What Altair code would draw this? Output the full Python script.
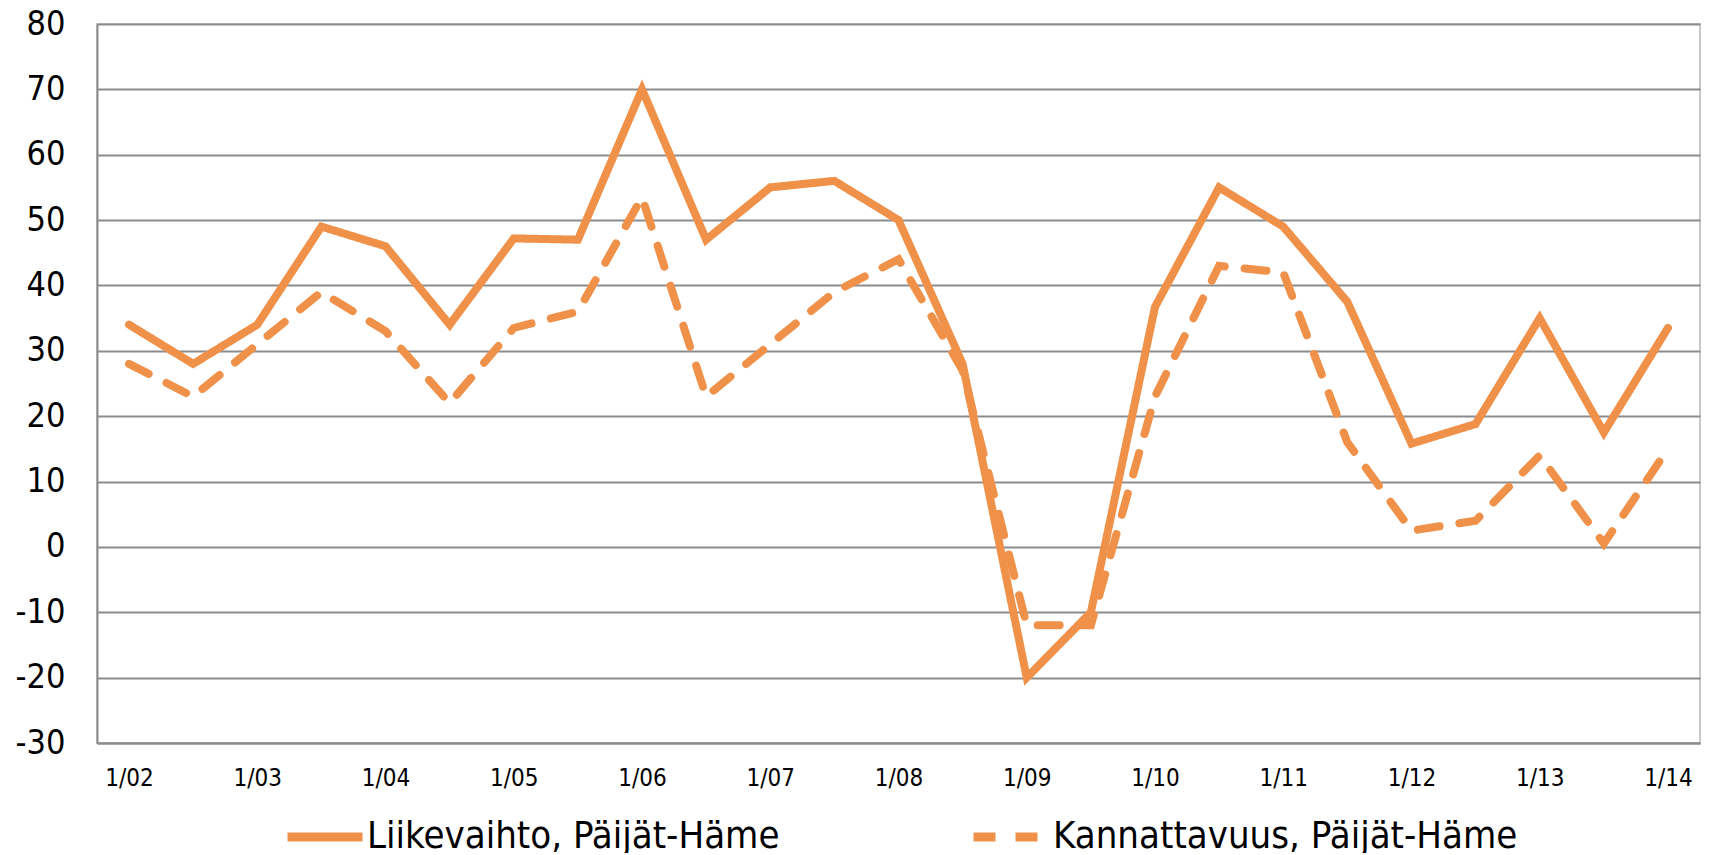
import altair as alt
import pandas as pd

periods = ["1/02", "7/02", "1/03", "7/03", "1/04", "7/04", "1/05", "7/05", "1/06", "7/06",
           "1/07", "7/07", "1/08", "7/08", "1/09", "7/09", "1/10", "7/10", "1/11", "7/11",
           "1/12", "7/12", "1/13", "7/13", "1/14"]
liikevaihto = [34, 28, 34, 49, 46, 34, 47.2, 47, 70, 47,
               55, 56, 50, 28, -20, -10, 36.7, 55, 49, 37.5,
               15.8, 18.8, 35, 17.5, 33.5]
kannattavuus = [28, 23, 31, 39, 33, 22, 33.5, 36, 53.5, 23,
                31, 39, 44, 27, -12, -12, 23, 43, 42, 16,
                2.5, 4, 14, 0.5, 15]
series_names = ["Liikevaihto, Päijät-Häme", "Kannattavuus, Päijät-Häme"]
tick_labels = [p for p in periods if p.startswith("1/")]

rows = []
for i, p in enumerate(periods):
    rows.append({"period": p, "value": liikevaihto[i], "series": series_names[0], "order": i})
    rows.append({"period": p, "value": kannattavuus[i], "series": series_names[1], "order": i})
df = pd.DataFrame(rows)

ORANGE = "#F0914A"
FONT = "'DejaVu Sans Condensed', 'Roboto Condensed', Roboto, sans-serif"

chart = alt.Chart(df).mark_line(
    color=ORANGE, strokeWidth=8, strokeCap="round", strokeJoin="miter"
).encode(
    x=alt.X("period:O", sort=periods,
            scale=alt.Scale(padding=0.5),
            axis=alt.Axis(title=None, values=tick_labels, labelAngle=0, ticks=False,
                          grid=False, domainColor="#8c8c8c", domainWidth=2,
                          labelFont=FONT, labelFontSize=24, labelColor="#000000",
                          labelPadding=23)),
    y=alt.Y("value:Q", scale=alt.Scale(domain=[-30, 80], nice=False),
            axis=alt.Axis(title=None, values=list(range(-30, 81, 10)), ticks=False,
                          grid=True, gridColor="#8c8c8c", gridWidth=2,
                          domainColor="#8c8c8c", domainWidth=2,
                          labelExpr="'' + datum.value",
                          labelFont=FONT, labelFontSize=34, labelColor="#000000",
                          labelPadding=32)),
    strokeDash=alt.StrokeDash("series:N",
                              scale=alt.Scale(domain=series_names, range=[[1, 0], [22, 20]]),
                              legend=alt.Legend(title=None, orient="none", legendX=186, legendY=771,
                                                direction="horizontal", columns=2,
                                                symbolType="stroke", symbolSize=5625,
                                                symbolStrokeWidth=9, symbolStrokeColor=ORANGE,
                                                labelFont=FONT, labelFontSize=38,
                                                labelColor="#000000", columnPadding=175,
                                                labelLimit=700, symbolOffset=0, labelOffset=0)),
    detail="series:N",
    order="order:Q",
).properties(
    width=1603, height=719,
    autosize=alt.AutoSizeParams(type="none"),
    padding={"left": 89, "top": 16, "right": 4, "bottom": 110},
).configure_view(stroke="#c8c8c8", strokeWidth=2)

chart.save("out.html", embed_options={"renderer": "svg", "actions": False})
